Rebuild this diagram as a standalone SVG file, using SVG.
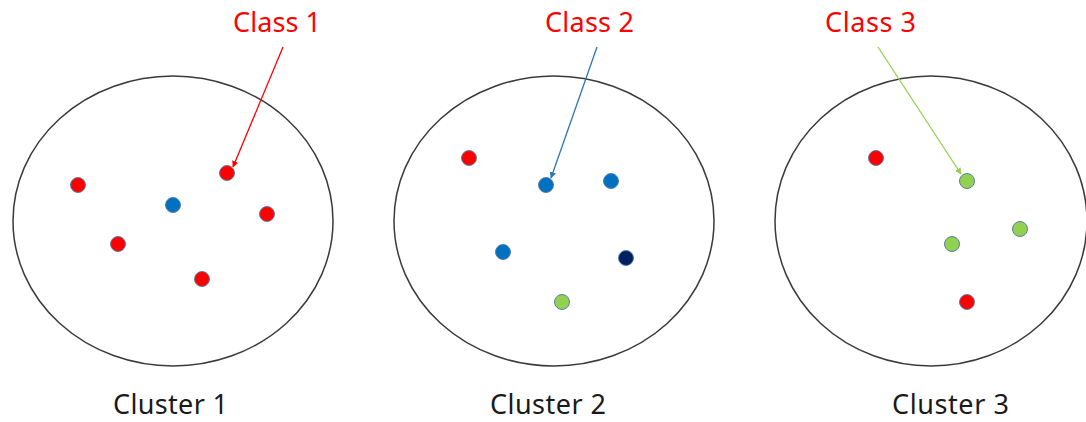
<svg xmlns="http://www.w3.org/2000/svg" width="1086" height="422" viewBox="0 0 1086 422">
<style>
.cl{fill:none;stroke:#3a3a3a;stroke-width:1.5}
.d{stroke:#5a7fa8;stroke-width:1}
.r{fill:#ff0000}.b{fill:#0070c0}.n{fill:#002060}.g{fill:#92d050}
.lab{font-family:"Noto Sans","Open Sans",sans-serif;font-size:27px;fill:#ff0000}
.cap{font-family:"Noto Sans","Open Sans",sans-serif;font-size:27px;fill:#1a1a1a}
</style>
<defs>
<marker id="ar" viewBox="0 0 10 10" refX="9" refY="5" markerWidth="5" markerHeight="5" orient="auto"><path d="M0,0L10,5L0,10z" fill="#ff0000"/></marker>
<marker id="ab" viewBox="0 0 10 10" refX="9" refY="5" markerWidth="5" markerHeight="5" orient="auto"><path d="M0,0L10,5L0,10z" fill="#2e75b6"/></marker>
<marker id="ag" viewBox="0 0 10 10" refX="9" refY="5" markerWidth="5" markerHeight="5" orient="auto"><path d="M0,0L10,5L0,10z" fill="#92d050"/></marker>
</defs>
<rect width="1086" height="422" fill="#fff"/>
<g id="cluster1">
<ellipse class="cl" cx="173" cy="221" rx="160" ry="145"/>
<circle class="d r" cx="78" cy="185" r="7.5"/>
<circle class="d r" cx="227" cy="173" r="7.5"/>
<circle class="d b" cx="173" cy="205" r="7.5"/>
<circle class="d r" cx="267" cy="214" r="7.5"/>
<circle class="d r" cx="118" cy="244" r="7.5"/>
<circle class="d r" cx="202" cy="279" r="7.5"/>
<text class="cap" x="113" y="414" textLength="115">Cluster 1</text>
</g>
<g id="cluster2">
<ellipse class="cl" cx="554" cy="221" rx="160" ry="145"/>
<circle class="d r" cx="469" cy="158" r="7.5"/>
<circle class="d b" cx="546" cy="185" r="7.5"/>
<circle class="d b" cx="611" cy="181" r="7.5"/>
<circle class="d b" cx="503" cy="252" r="7.5"/>
<circle class="d n" cx="626" cy="258" r="7.5"/>
<circle class="d g" cx="562" cy="302" r="7.5"/>
<text class="cap" x="490" y="414" textLength="116">Cluster 2</text>
</g>
<g id="cluster3">
<ellipse class="cl" cx="931" cy="221" rx="156" ry="145"/>
<circle class="d r" cx="876" cy="158" r="7.5"/>
<circle class="d g" cx="967" cy="181" r="7.5"/>
<circle class="d g" cx="952" cy="244" r="7.5"/>
<circle class="d g" cx="1020" cy="229" r="7.5"/>
<circle class="d r" cx="967" cy="302" r="7.5"/>
<text class="cap" x="892" y="414" textLength="117">Cluster 3</text>
</g>
<g id="class1"><text class="lab" x="233" y="32" textLength="88">Class 1</text></g>
<g id="class2"><text class="lab" x="545" y="32" textLength="89">Class 2</text></g>
<g id="class3"><text class="lab" x="825" y="32" textLength="91">Class 3</text></g>
<g id="connectors">
<line x1="283" y1="47" x2="233" y2="167" stroke="#ff0000" stroke-width="1.3" marker-end="url(#ar)"/>
<line x1="597" y1="47" x2="551" y2="178" stroke="#2e75b6" stroke-width="1.3" marker-end="url(#ab)"/>
<line x1="878" y1="47" x2="961" y2="174" stroke="#92d050" stroke-width="1.3" marker-end="url(#ag)"/>
</g>
</svg>
